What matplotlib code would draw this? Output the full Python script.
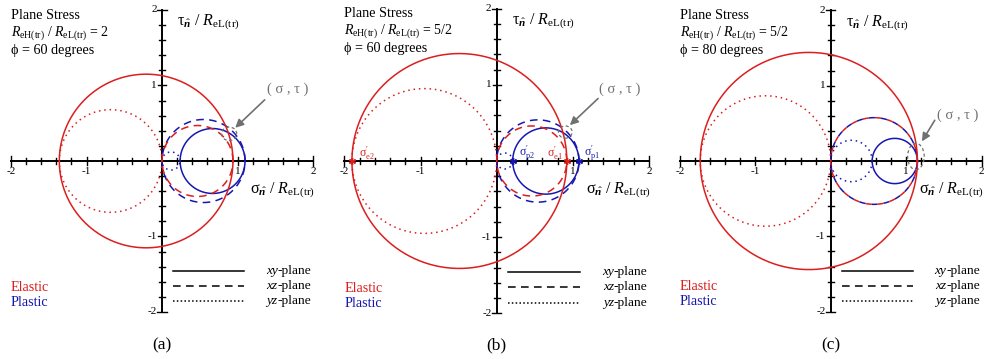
import numpy as np
import matplotlib
matplotlib.use("Agg")
import matplotlib.pyplot as plt
from matplotlib.patches import Ellipse

plt.rcParams['font.family'] = ['Liberation Serif', 'DejaVu Serif']
plt.rcParams['mathtext.fontset'] = 'custom'
plt.rcParams['mathtext.rm'] = 'Liberation Serif'
plt.rcParams['mathtext.it'] = 'Liberation Serif:italic'
plt.rcParams['mathtext.bf'] = 'Liberation Serif:bold:italic'

# principal stresses / ReL(tr)
panels = ['(a)', '(b)', '(c)']
ratio_text = ['2', '5/2', '5/2']
phi_deg = [60, 60, 80]
sig_e1 = [0.94, 0.92, 1.15]
sig_e2 = [-1.36, -1.90, -1.73]
sig_p1 = [1.10, 1.08, 1.15]
sig_p2 = [0.24, 0.21, 0.55]
# (sigma, tau) locus: centre, width/height, arrow and label
loc_c = [(0.89, 0.36), (0.90, 0.38), (1.13, 0.06)]
loc_wh = [(0.20, 0.18), (0.18, 0.16), (0.22, 0.35)]
arrow_tip = [(0.97, 0.44), (0.96, 0.47), (1.21, 0.26)]
arrow_tail = [(1.36, 0.81), (1.33, 0.82), (1.38, 0.54)]
label_pos = [(1.67, 0.95), (1.62, 0.94), (1.69, 0.61)]

# page layout (pixels)
W, H = 990, 359
panel_left = [0, 330, 660]
origin_x = [162, 496.7, 830.7]
origin_y = 161
unit = [75.5, 76.2, 75.4]

RED = '#dc1e1e'
BLUE = '#1717b0'
GREY = '#707070'
LW = 1.1

def mohr(ax, a, b, **kw):
    th = np.linspace(0, 2 * np.pi, 500)
    c, r = (a + b) / 2, abs(a - b) / 2
    ax.plot(c + r * np.cos(th), r * np.sin(th), **kw)

fig = plt.figure(figsize=(W / 100, H / 100), dpi=100)

for i in range(3):
    ax = fig.add_axes([panel_left[i] / W, 0, 330 / W, 1])
    ox = origin_x[i] - panel_left[i]
    u = unit[i]
    ax.set_xlim(-ox / u, (330 - ox) / u)
    ax.set_ylim((origin_y - H) / u, origin_y / u)
    ax.axis('off')

    # axes with ticks
    ax.plot([-2, 2], [0, 0], color='k', lw=1.4, zorder=1)
    ax.plot([0, 0], [-2, 2], color='k', lw=1.4, zorder=1)
    for t in np.round(np.arange(-2, 2.01, 0.2), 1):
        if t == 0:
            continue
        h = 0.06 if abs(t) == 2 else (0.05 if t == int(t) else 0.038)
        ax.plot([t, t], [-h, h], color='k', lw=1.0, zorder=1)
        ax.plot([-h, h], [t, t], color='k', lw=1.0, zorder=1)
    for v in [-2, -1, 1, 2]:
        ax.text(v, -0.14, str(v), ha='center', va='center', fontsize=8)
        ax.text(-0.07, v, str(v), ha='right', va='center', fontsize=8)

    # plastic circles
    if i == 2:
        dash_b = (4, (4, 4))
    else:
        dash_b = (0, (5, 3.5))
    mohr(ax, sig_p1[i], sig_p2[i], color=BLUE, lw=LW, zorder=3)
    mohr(ax, sig_p1[i], 0, color=BLUE, lw=LW, ls=dash_b, zorder=3)
    mohr(ax, sig_p2[i], 0, color=BLUE, lw=LW, ls=(0, (1, 2.5)), zorder=3)
    # elastic circles
    dash_r = (0, (4, 4)) if i == 2 else (0, (5, 3.5))
    mohr(ax, sig_e1[i], sig_e2[i], color=RED, lw=LW, zorder=4)
    mohr(ax, sig_e1[i], 0, color=RED, lw=LW, ls=dash_r, zorder=4)
    mohr(ax, sig_e2[i], 0, color=RED, lw=LW, ls=(0, (1, 2.5)), zorder=4)

    # (sigma, tau) locus
    ax.add_patch(Ellipse(loc_c[i], loc_wh[i][0], loc_wh[i][1], fill=False,
                         ec=GREY, lw=0.9, ls=(0, (2.5, 2)), zorder=5))
    ax.annotate('', xy=arrow_tip[i], xytext=arrow_tail[i],
                arrowprops=dict(arrowstyle='-|>', color=GREY, lw=1.2,
                                mutation_scale=12, shrinkA=0, shrinkB=0),
                zorder=6)
    ax.text(label_pos[i][0], label_pos[i][1], '( σ , τ )', color=GREY,
            ha='center', va='center', fontsize=10.5)

    # principal stress labels in panel (b)
    if i == 1:
        ax.plot([sig_e2[i], sig_e1[i]], [0, 0], ls='none', marker=(6, 2, 0),
                ms=5, mew=1, color=RED, zorder=6)
        ax.plot([sig_p2[i], sig_p1[i]], [0, 0], ls='none', marker=(6, 2, 0),
                ms=5, mew=1, color=BLUE, zorder=6)
        ax.text(sig_e2[i] + 0.2, 0.1, r'$\mathrm{\sigma}^{\prime}_{\mathrm{e2}}$',
                color=RED, ha='center', va='center', fontsize=8.5)
        ax.text(sig_p2[i] + 0.19, 0.1, r'$\mathrm{\sigma}^{\prime}_{\mathrm{p2}}$',
                color=BLUE, ha='center', va='center', fontsize=8.5)
        ax.text(sig_e1[i] - 0.15, 0.1, r'$\mathrm{\sigma}^{\prime}_{\mathrm{e1}}$',
                color=RED, ha='center', va='center', fontsize=8.5)
        ax.text(sig_p1[i] + 0.17, 0.1, r'$\mathrm{\sigma}^{\prime}_{\mathrm{p1}}$',
                color=BLUE, ha='center', va='center', fontsize=8.5)

    # axis titles
    ax.text(0.2, 1.83, r'$\mathrm{\tau}_{\hat{\mathbf{n}}}$ / $R_{\mathrm{eL(tr)}}$',
            ha='left', va='center', fontsize=11.5)
    ax.text(1.17, -0.39, r'$\mathrm{\sigma}_{\hat{\mathbf{n}}}$ / $R_{\mathrm{eL(tr)}}$',
            ha='left', va='center', fontsize=11.5)

    # header text
    ax.text(-2.0, 1.93, 'Plane Stress', ha='left', va='center', fontsize=10.2)
    ax.text(-2.0, 1.70, r'$R_{\mathrm{eH(tr)}}$ / $R_{\mathrm{eL(tr)}}$ = ' + ratio_text[i],
            ha='left', va='center', fontsize=10)
    ax.text(-2.0, 1.47, 'ϕ = %d degrees' % phi_deg[i], ha='left', va='center',
            fontsize=10.2)

    # legend
    ax.text(-2.0, -1.67, 'Elastic', color=RED, ha='left', va='center', fontsize=10.2)
    ax.text(-2.0, -1.87, 'Plastic', color=BLUE, ha='left', va='center', fontsize=10.2)
    styles = ['-', (0, (5, 3.5)), (0, (1, 1.5))]
    planes = ['xy', 'xz', 'yz']
    for k in range(3):
        yy = -1.46 - 0.2 * k
        ax.plot([0.15, 1.09], [yy, yy], color='k', lw=LW, ls=styles[k])
        t = ax.text(1.98, yy, '-plane', ha='right', va='center', fontsize=9.6)
        ax.annotate(planes[k], xy=(0, 0), xycoords=t, ha='right', va='bottom',
                    fontsize=9.6, style='italic')

    # panel letter under the origin, same page height for every panel
    ax.text(0, 1 - 349 / H, panels[i], transform=ax.get_xaxis_transform(),
            ha='center', va='baseline', fontsize=12.5)

fig.savefig('out.png', dpi=100)
